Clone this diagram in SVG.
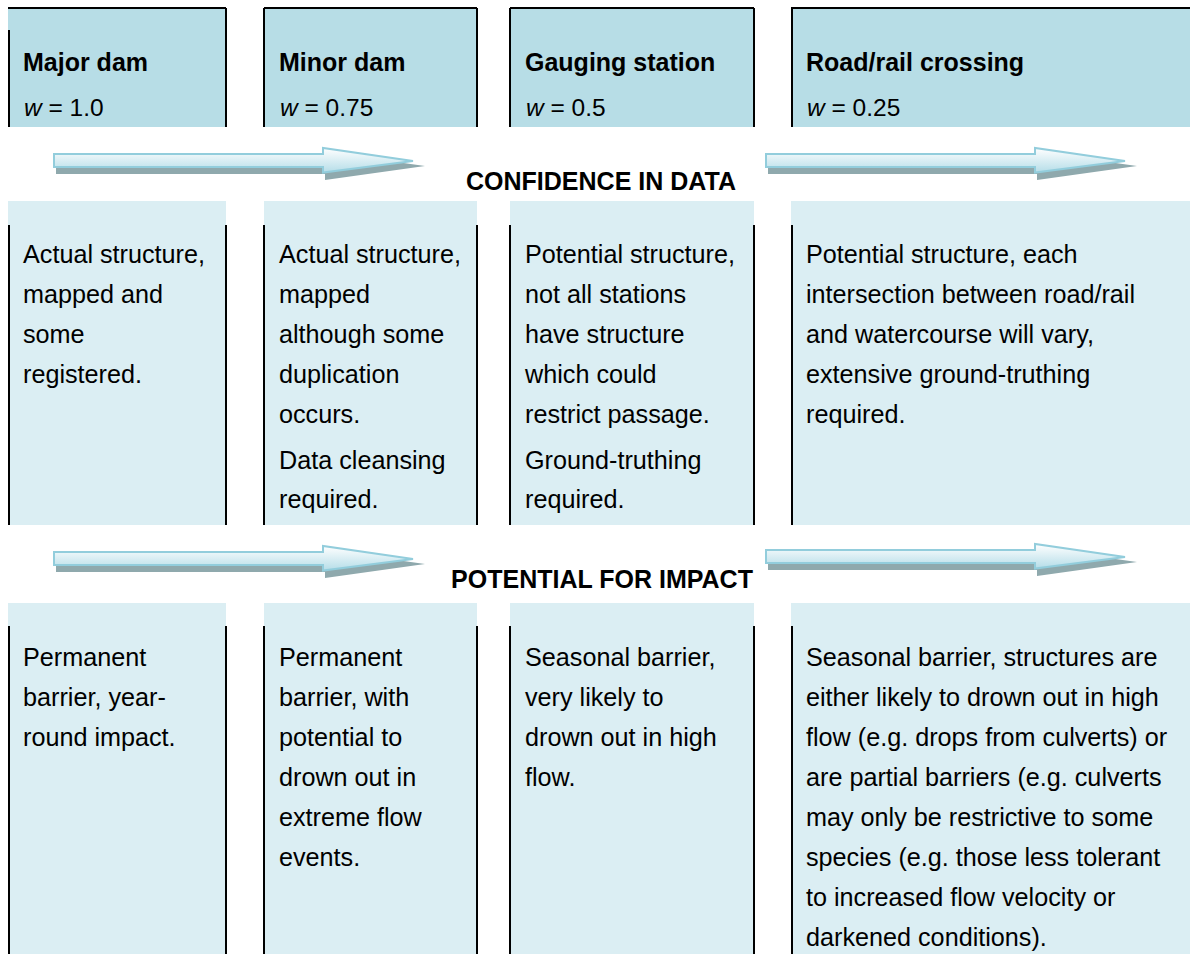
<svg xmlns="http://www.w3.org/2000/svg" xmlns:xlink="http://www.w3.org/1999/xlink" width="1190" height="954" viewBox="0 0 1190 954">
  <style>
    .head { fill: #b7dde6; }
    .cell { fill: #dbeef3; }
    .edge { stroke: #000; stroke-width: 2; fill: none; }
    .title { font-family: "Liberation Sans", Arial, sans-serif; font-size: 25px; font-weight: bold; fill: #000; }
    .wt { font-family: "Liberation Sans", Arial, sans-serif; font-size: 24.5px; fill: #000; }
    .body { font-family: "Liberation Sans", Arial, sans-serif; font-size: 25.2px; fill: #000; }
    .band { font-family: "Liberation Sans", Arial, sans-serif; font-size: 25px; font-weight: bold; fill: #000; text-anchor: middle; }
  </style>
  <defs>
    <linearGradient id="arrowFill" x1="0" y1="0" x2="0" y2="1">
      <stop offset="0" stop-color="#ffffff"/>
      <stop offset="1" stop-color="#b5dde8"/>
    </linearGradient>
    <!-- block arrow with a soft grey drop shadow -->
    <g id="blockArrow">
      <polygon points="2,6 271,6 271,-2 371,12 271,26 271,20 2,20" fill="#8fa9ad"/>
      <polygon points="0,0 269,0 269,-6 359,7 269,18.5 269,13 0,13" fill="url(#arrowFill)" stroke="#92cddc" stroke-width="2" stroke-linejoin="miter"/>
    </g>
  </defs>

  <rect width="1190" height="954" fill="#ffffff"/>

  <!-- header row: structure types and weights -->
  <g id="major-dam">
    <rect class="head" x="8" y="8" width="218" height="119"/>
    <path class="edge" d="M8 8H226M9 30V127M226 8V127" stroke-width="1.5"/>
    <text class="title" x="23" y="71">Major dam</text>
    <text class="wt" x="24" y="116"><tspan font-style="italic">w</tspan> = 1.0</text>
  </g>
  <g id="minor-dam">
    <rect class="head" x="264" y="8" width="213" height="119"/>
    <path class="edge" d="M264 8H477M264 8V127M477 8V127" stroke-width="1.5"/>
    <text class="title" x="279" y="71">Minor dam</text>
    <text class="wt" x="280" y="116"><tspan font-style="italic">w</tspan> = 0.75</text>
  </g>
  <g id="gauging-station">
    <rect class="head" x="510" y="8" width="244" height="119"/>
    <path class="edge" d="M510 8H754M510 8V127M754 8V127" stroke-width="1.5"/>
    <text class="title" x="525" y="71">Gauging station</text>
    <text class="wt" x="526" y="116"><tspan font-style="italic">w</tspan> = 0.5</text>
  </g>
  <g id="road-rail-crossing">
    <rect class="head" x="791" y="8" width="399" height="119"/>
    <path class="edge" d="M791 8H1190M792 8V127" stroke-width="1.5"/>
    <text class="title" x="806" y="71">Road/rail crossing</text>
    <text class="wt" x="807" y="116"><tspan font-style="italic">w</tspan> = 0.25</text>
  </g>

  <!-- confidence row -->
  <g id="confidence-major">
    <rect class="cell" x="8" y="201" width="218" height="324"/>
    <path class="edge" d="M9 225V525M226 225V525"/>
    <text class="body">
      <tspan x="23" y="263">Actual structure,</tspan>
      <tspan x="23" y="303">mapped and</tspan>
      <tspan x="23" y="343">some</tspan>
      <tspan x="23" y="383">registered.</tspan>
    </text>
  </g>
  <g id="confidence-minor">
    <rect class="cell" x="264" y="201" width="213" height="324"/>
    <path class="edge" d="M264 225V525M477 225V525"/>
    <text class="body">
      <tspan x="279" y="263">Actual structure,</tspan>
      <tspan x="279" y="303">mapped</tspan>
      <tspan x="279" y="343">although some</tspan>
      <tspan x="279" y="383">duplication</tspan>
      <tspan x="279" y="423">occurs.</tspan>
      <tspan x="279" y="469">Data cleansing</tspan>
      <tspan x="279" y="508">required.</tspan>
    </text>
  </g>
  <g id="confidence-gauging">
    <rect class="cell" x="510" y="201" width="244" height="324"/>
    <path class="edge" d="M510 225V525M754 225V525"/>
    <text class="body">
      <tspan x="525" y="263">Potential structure,</tspan>
      <tspan x="525" y="303">not all stations</tspan>
      <tspan x="525" y="343">have structure</tspan>
      <tspan x="525" y="383">which could</tspan>
      <tspan x="525" y="423">restrict passage.</tspan>
      <tspan x="525" y="469">Ground-truthing</tspan>
      <tspan x="525" y="508">required.</tspan>
    </text>
  </g>
  <g id="confidence-crossing">
    <rect class="cell" x="791" y="201" width="399" height="324"/>
    <path class="edge" d="M792 225V525"/>
    <text class="body">
      <tspan x="806" y="263">Potential structure, each</tspan>
      <tspan x="806" y="303">intersection between road/rail</tspan>
      <tspan x="806" y="343">and watercourse will vary,</tspan>
      <tspan x="806" y="383">extensive ground-truthing</tspan>
      <tspan x="806" y="423">required.</tspan>
    </text>
  </g>

  <!-- impact row -->
  <g id="impact-major">
    <rect class="cell" x="8" y="603" width="218" height="351"/>
    <path class="edge" d="M9 626V954M226 626V954"/>
    <text class="body">
      <tspan x="23" y="666">Permanent</tspan>
      <tspan x="23" y="706">barrier, year-</tspan>
      <tspan x="23" y="746">round impact.</tspan>
    </text>
  </g>
  <g id="impact-minor">
    <rect class="cell" x="264" y="603" width="213" height="351"/>
    <path class="edge" d="M264 626V954M477 626V954"/>
    <text class="body">
      <tspan x="279" y="666">Permanent</tspan>
      <tspan x="279" y="706">barrier, with</tspan>
      <tspan x="279" y="746">potential to</tspan>
      <tspan x="279" y="786">drown out in</tspan>
      <tspan x="279" y="826">extreme flow</tspan>
      <tspan x="279" y="866">events.</tspan>
    </text>
  </g>
  <g id="impact-gauging">
    <rect class="cell" x="510" y="603" width="244" height="351"/>
    <path class="edge" d="M510 626V954M754 626V954"/>
    <text class="body">
      <tspan x="525" y="666">Seasonal barrier,</tspan>
      <tspan x="525" y="706">very likely to</tspan>
      <tspan x="525" y="746">drown out in high</tspan>
      <tspan x="525" y="786">flow.</tspan>
    </text>
  </g>
  <g id="impact-crossing">
    <rect class="cell" x="791" y="603" width="399" height="351"/>
    <path class="edge" d="M792 626V954"/>
    <text class="body">
      <tspan x="806" y="666">Seasonal barrier, structures are</tspan>
      <tspan x="806" y="706">either likely to drown out in high</tspan>
      <tspan x="806" y="746">flow (e.g. drops from culverts) or</tspan>
      <tspan x="806" y="786">are partial barriers (e.g. culverts</tspan>
      <tspan x="806" y="826">may only be restrictive to some</tspan>
      <tspan x="806" y="866">species (e.g. those less tolerant</tspan>
      <tspan x="806" y="906">to increased flow velocity or</tspan>
      <tspan x="806" y="946">darkened conditions).</tspan>
    </text>
  </g>

  <!-- trend arrows between the rows -->
  <g id="arrows">
    <use xlink:href="#blockArrow" transform="translate(54,154)"/>
    <use xlink:href="#blockArrow" transform="translate(766,154)"/>
    <use xlink:href="#blockArrow" transform="translate(54,552)"/>
    <use xlink:href="#blockArrow" transform="translate(766,550)"/>
  </g>

  <!-- band labels -->
  <g id="band-confidence">
    <text class="band" x="601" y="190">CONFIDENCE IN DATA</text>
  </g>
  <g id="band-impact">
    <text class="band" x="602" y="588">POTENTIAL FOR IMPACT</text>
  </g>
</svg>
